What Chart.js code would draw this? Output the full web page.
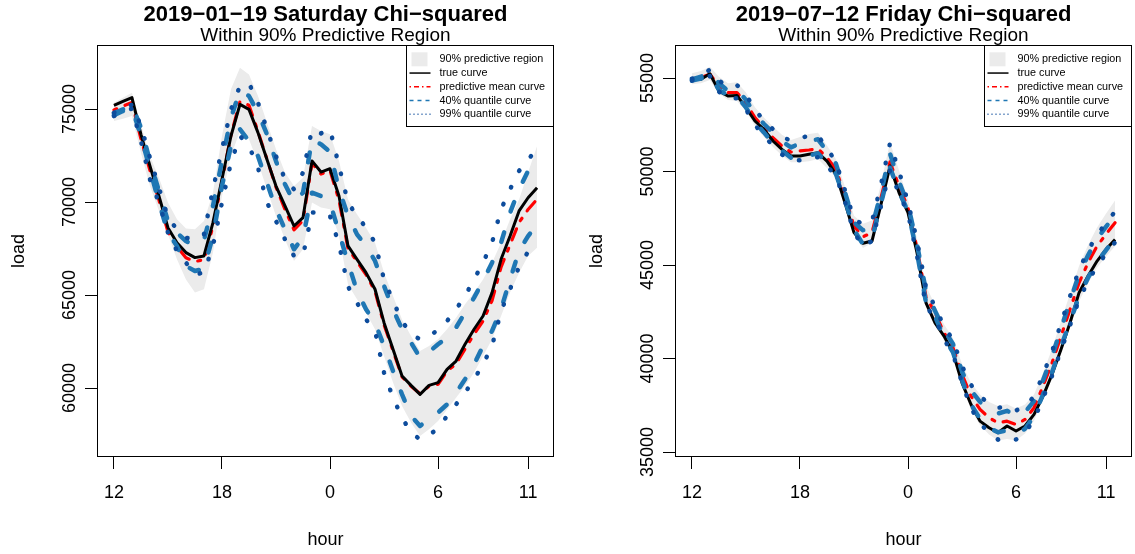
<!DOCTYPE html>
<html>
<head>
<meta charset="utf-8">
<script src="https://cdn.jsdelivr.net/npm/chart.js@4.4.1/dist/chart.umd.min.js"></script>
<style>
  html, body { margin: 0; padding: 0; background: #fff; }
  #wrap { position: relative; width: 1135px; height: 554px; }
  .panel { position: absolute; top: 0; height: 554px; }
</style>
</head>
<body>
<div id="wrap">
  <div class="panel" style="left:0;width:567px"><canvas id="chartJan"></canvas></div>
  <div class="panel" style="left:567px;width:568px"><canvas id="chartJul"></canvas></div>
</div>
<script>
// half-hour steps, 12:00 up to 11:30 next morning (index 0..47)
const hourTicks = [0, 12, 24, 36, 46];
const hourLabels = ['12', '18', '0', '6', '11'];

const legendLabels = ['90% predictive region', 'true curve', 'predictive mean curve', '40% quantile curve', '99% quantile curve'];

// 2019-01-19
const janYTicks = [60000, 65000, 70000, 75000];
const janTrue = [75200,75410,75610,73640,71940,70320,68620,67810,67280,67010,67100,68890,71220,73550,75250,74980,73730,72290,70860,69790,68710,69160,72210,71610,
                 71790,70320,67640,66920,66200,65310,63510,62080,60650,60140,59660,60140,60290,61000,61450,62350,63160,63870,65130,66920,68170,69520,70230,70770];
const janMean = [74950,75150,75350,73400,71700,70100,68400,67600,67000,66800,66900,68700,71100,73600,75400,75200,73800,72300,70800,69600,68500,69000,72100,71500,
                 71700,70100,67500,66800,66100,65200,63400,62000,60600,60100,59700,60100,60200,60900,61300,62100,62900,63600,64700,66500,67700,68900,69600,70150];
const janQ40Hi = [74770,74980,75200,74000,72200,70590,68980,68350,67900,67640,67960,69790,72200,74530,75970,75700,74800,73640,72200,70950,70000,70500,73370,73100,
                  72700,70680,69250,68260,67640,66830,65490,64230,63160,62440,61630,61940,62350,62710,63250,64050,64860,65750,66740,67810,69430,70680,71670,72290];
const janQ40Lo = [74660,74890,75070,73550,71760,69970,68350,67640,66560,66290,66420,68170,70860,73010,73910,73280,72470,71040,69610,68530,67460,68080,70500,70320,
                  69970,68350,66740,65220,64230,63510,62260,60920,59660,58500,57960,58350,58680,59120,59750,60470,61270,62260,63070,64230,65840,67370,68170,68800];
const janQ99Hi = [74800,75020,75230,74090,72380,70770,69160,68530,68080,67990,68260,70680,72830,74980,76240,76380,75340,73910,72470,71220,70680,71580,73910,73690,
                  73910,71940,69970,69250,68620,67810,65840,64680,63600,62890,62620,62800,63120,63600,64230,64950,65840,66740,67810,69610,70680,71670,72290,72830];
const janQ99Lo = [74620,74840,75020,73280,71220,69970,68350,67370,66740,66110,66200,67640,69970,72120,73550,73010,71850,69970,68980,67990,67100,67100,69430,69430,
                  69250,67730,65450,64590,63690,63070,60830,59480,58410,57600,57240,57470,57830,58500,59120,59750,60470,61270,62260,64140,65310,66520,67330,67810];
const janBandHi = [75340,75610,75880,74180,72470,71310,69970,69070,68570,68530,68980,70500,73550,76060,77220,76860,75700,74270,72830,71580,70860,71310,74090,73820,
                   73640,72210,70140,69340,68620,67810,66200,64950,63690,62800,61990,62260,62620,63160,63780,64500,65130,65840,66740,67810,69070,70140,71580,73010];
const janBandLo = [74360,74480,74620,72650,70860,69520,68260,66920,65840,65130,65310,67280,70320,72470,73820,73370,72120,70680,69250,67990,66830,67460,69970,69700,
                   69610,68170,65570,64770,64050,63160,61720,60290,59030,58140,57420,57780,58230,58850,59480,60110,60830,61720,62620,63870,65130,66200,67100,67550];

// 2019-07-12
const julYTicks = [35000, 40000, 45000, 50000, 55000];
const julTrue = [54930,54930,55230,54300,54040,54070,53410,52700,52250,51630,51180,50830,50830,50920,51000,50560,49850,48330,46730,46160,46280,48240,50290,48870,
                 47800,45660,42980,41910,41200,40310,38700,37540,36650,36300,36030,36390,36120,36390,37010,37990,39150,40490,41910,43520,44410,45210,45840,46370];
const julMean = [54960,55020,55200,54570,54220,54220,53680,52880,52340,51810,51360,51040,51100,51150,51220,50740,50110,48690,47080,46510,46730,48600,50510,49220,
                 48060,45900,43300,42450,41380,40580,39150,37990,37280,36830,36560,36650,36470,36740,37370,38530,39770,41200,42630,44050,45120,46010,46650,47260];
const julQ40Hi = [54930,55070,55300,54720,54320,54370,53830,53080,52540,52060,51610,51290,51500,51650,51720,51090,50410,48890,47280,46860,47030,48850,50960,49470,
                  48210,46100,43600,42550,41530,40780,39300,38290,37680,37280,37060,37200,36970,37140,37720,38830,40120,41600,43080,44500,45520,46410,47050,47660];
const julQ40Lo = [54860,54970,55150,54370,54070,54020,53430,52630,52090,51510,51110,50740,50800,50850,50970,50440,49860,48490,46880,46110,46430,48300,50210,48920,
                  47860,45650,43000,42250,41130,40330,38850,37540,36780,36280,36060,36150,35970,36240,36920,38080,39270,40650,41980,43300,44320,45160,45800,46410];
const julQ99Hi = [54960,55120,55450,54870,54520,54620,54130,53280,52740,52260,51860,51640,51800,51900,51920,51240,50510,48990,47480,47160,47330,49300,51510,50020,
                  48360,46300,43800,42750,41730,40980,39600,38590,37980,37580,37360,37450,37220,37440,37970,39130,40370,41900,43330,44750,45770,46610,47250,47860];
const julQ99Lo = [54860,54920,55100,54270,53920,53920,53330,52480,51940,51360,50910,50590,50600,50650,50770,50290,49760,48390,46730,46010,46280,48150,50060,48820,
                  47760,45500,42800,42150,41030,40230,38700,37340,36530,36030,35660,35750,35670,36040,36720,37880,39070,40450,41780,43150,44120,44960,45600,46210];
const julBandHi = [55260,55370,55600,55070,54720,54770,54230,53430,52890,52410,51960,51690,51850,52000,52070,51390,50660,49190,47630,47210,47380,49350,51560,50070,
                   48510,46400,43900,42850,41830,41080,39700,38690,38080,37680,37460,37550,37320,37540,38070,39230,40520,42000,43480,44950,46070,47010,47750,48460];
const julBandLo = [54660,54720,54900,54170,53820,53770,53230,52430,51840,51310,50860,50490,50500,50550,50670,50190,49660,48290,46630,45910,46180,48050,50010,48720,
                   47660,45400,42700,42050,40930,40130,38600,37240,36430,35930,35610,35700,35620,35990,36670,37830,39020,40350,41680,43050,44020,44860,45450,46010];

const FONT = '"Liberation Sans", Arial, Helvetica, sans-serif';
const BAND = '#EBEBEB';
const RED = '#FF0000';
const DASH_BLUE = '#1F77B4';
const DOT_BLUE = '#0D4C9C';

function pts(arr) {
  return arr.map((v, i) => ({ x: i, y: v }));
}

function drawLegend(ctx, a) {
  const w = 148, h = 82;
  const x0 = a.right - w, y0 = a.top;
  ctx.fillStyle = '#fff';
  ctx.fillRect(x0, y0, w, h);
  ctx.setLineDash([]);
  ctx.strokeStyle = '#000';
  ctx.lineWidth = 1;
  ctx.strokeRect(x0 + 0.5, y0 + 0.5, w - 1, h - 1);

  ctx.font = '10.8px ' + FONT;
  ctx.textAlign = 'left';
  ctx.textBaseline = 'middle';
  legendLabels.forEach((label, i) => {
    const y = y0 + 14.3 + i * 13.75;
    if (i === 0) {
      ctx.fillStyle = BAND;
      ctx.fillRect(x0 + 5.5, y - 7, 16, 14);
    } else {
      const styles = [null,
        { c: '#000', d: [] },
        { c: RED, d: [1.5, 3, 5, 3] },
        { c: DASH_BLUE, d: [4, 4] },
        { c: DOT_BLUE, d: [1, 3] }];
      ctx.save();
      ctx.strokeStyle = styles[i].c;
      ctx.lineWidth = 1.5;
      ctx.lineCap = 'butt';
      ctx.setLineDash(styles[i].d);
      ctx.beginPath();
      ctx.moveTo(x0 + 3.5, y);
      ctx.lineTo(x0 + 24.5, y);
      ctx.stroke();
      ctx.restore();
    }
    ctx.fillStyle = '#000';
    ctx.fillText(label, x0 + 33.5, y);
  });
}

// R style frame, titles, axis labels and legend
const rPlotPlugin = {
  id: 'rPlot',
  afterDraw(chart, args, opts) {
    const ctx = chart.ctx;
    const a = chart.chartArea;
    const xScale = chart.scales.x;
    const yScale = chart.scales.y;
    const cx = (a.left + a.right) / 2;
    const cy = (a.top + a.bottom) / 2;

    ctx.save();
    ctx.setLineDash([]);
    ctx.strokeStyle = '#000';
    ctx.lineWidth = 1;
    ctx.strokeRect(a.left + 0.5, a.top + 0.5, a.right - a.left - 1, a.bottom - a.top - 1);

    ctx.fillStyle = '#000';
    ctx.textAlign = 'center';
    ctx.textBaseline = 'alphabetic';
    ctx.font = 'bold 22px ' + FONT;
    ctx.fillText(opts.title, cx, 20.5);
    ctx.font = '19px ' + FONT;
    ctx.fillText(opts.subtitle, cx, 40.5);

    ctx.font = '18px ' + FONT;
    hourTicks.forEach((v, i) => {
      ctx.fillText(hourLabels[i], xScale.getPixelForValue(v), 498);
    });
    ctx.fillText('hour', cx, 545);

    opts.yTicks.forEach(v => {
      ctx.save();
      ctx.translate(a.left - 22, yScale.getPixelForValue(v));
      ctx.rotate(-Math.PI / 2);
      ctx.fillText(String(v), 0, 0);
      ctx.restore();
    });
    ctx.save();
    ctx.translate(a.left - 73, cy);
    ctx.rotate(-Math.PI / 2);
    ctx.fillText('load', 0, 0);
    ctx.restore();

    drawLegend(ctx, a);
    ctx.restore();
  }
};

function plotPanel(canvasId, s) {
  const ctx = document.getElementById(canvasId).getContext('2d');
  const thin = { pointRadius: 0, borderJoinStyle: 'round', fill: false };
  return new Chart(ctx, {
    type: 'line',
    data: {
      datasets: [
        { data: pts(s.bandLo), borderWidth: 0, borderColor: 'rgba(0,0,0,0)', pointRadius: 0, fill: false, order: 10 },
        { data: pts(s.bandHi), borderWidth: 0, borderColor: 'rgba(0,0,0,0)', pointRadius: 0, fill: 0, backgroundColor: BAND, order: 9 },
        { ...thin, data: pts(s.mean), borderColor: RED, borderWidth: 3.2, borderCapStyle: 'round', borderDash: [3, 9, 12, 9], order: 5 },
        { ...thin, data: pts(s.truth), borderColor: '#000', borderWidth: 3, order: 4 },
        { ...thin, data: pts(s.q40Lo), borderColor: DASH_BLUE, borderWidth: 4.5, borderCapStyle: 'round', borderDash: [10, 22], order: 3 },
        { ...thin, data: pts(s.q40Hi), borderColor: DASH_BLUE, borderWidth: 4.5, borderCapStyle: 'round', borderDash: [10, 22], order: 3 },
        { ...thin, data: pts(s.q99Lo), borderColor: DOT_BLUE, borderWidth: 4.5, borderCapStyle: 'round', borderDash: [0.5, 18], order: 2 },
        { ...thin, data: pts(s.q99Hi), borderColor: DOT_BLUE, borderWidth: 4.5, borderCapStyle: 'round', borderDash: [0.5, 18], order: 2 }
      ]
    },
    options: {
      responsive: true,
      maintainAspectRatio: false,
      animation: false,
      events: [],
      layout: { padding: { left: 0, right: s.padRight, top: 45, bottom: 0 } },
      plugins: {
        legend: { display: false },
        tooltip: { enabled: false },
        rPlot: { title: s.title, subtitle: 'Within 90% Predictive Region', yTicks: s.yTicks }
      },
      scales: {
        x: {
          type: 'linear',
          min: -1.88,
          max: 48.88,
          afterBuildTicks: scale => { scale.ticks = hourTicks.map(v => ({ value: v })); },
          afterFit: scale => { scale.height = 97; },
          ticks: { display: false },
          grid: { drawOnChartArea: false, drawTicks: true, tickLength: 12, color: '#000' },
          border: { display: false }
        },
        y: {
          min: s.yMin,
          max: s.yMax,
          afterBuildTicks: scale => { scale.ticks = s.yTicks.map(v => ({ value: v })); },
          afterFit: scale => { scale.width = s.axisWidth; },
          ticks: { display: false },
          grid: { drawOnChartArea: false, drawTicks: true, tickLength: 12, color: '#000' },
          border: { display: false }
        }
      }
    },
    plugins: [rPlotPlugin]
  });
}

plotPanel('chartJan', {
  title: '2019\u221201\u221219 Saturday Chi\u2212squared',
  yTicks: janYTicks, yMin: 56291, yMax: 78441, axisWidth: 97, padRight: 13,
  truth: janTrue, mean: janMean, q40Hi: janQ40Hi, q40Lo: janQ40Lo,
  q99Hi: janQ99Hi, q99Lo: janQ99Lo, bandHi: janBandHi, bandLo: janBandLo
});

plotPanel('chartJul', {
  title: '2019\u221207\u221212 Friday Chi\u2212squared',
  yTicks: julYTicks, yMin: 34733, yMax: 56765, axisWidth: 108, padRight: 3,
  truth: julTrue, mean: julMean, q40Hi: julQ40Hi, q40Lo: julQ40Lo,
  q99Hi: julQ99Hi, q99Lo: julQ99Lo, bandHi: julBandHi, bandLo: julBandLo
});
</script>
</body>
</html>
